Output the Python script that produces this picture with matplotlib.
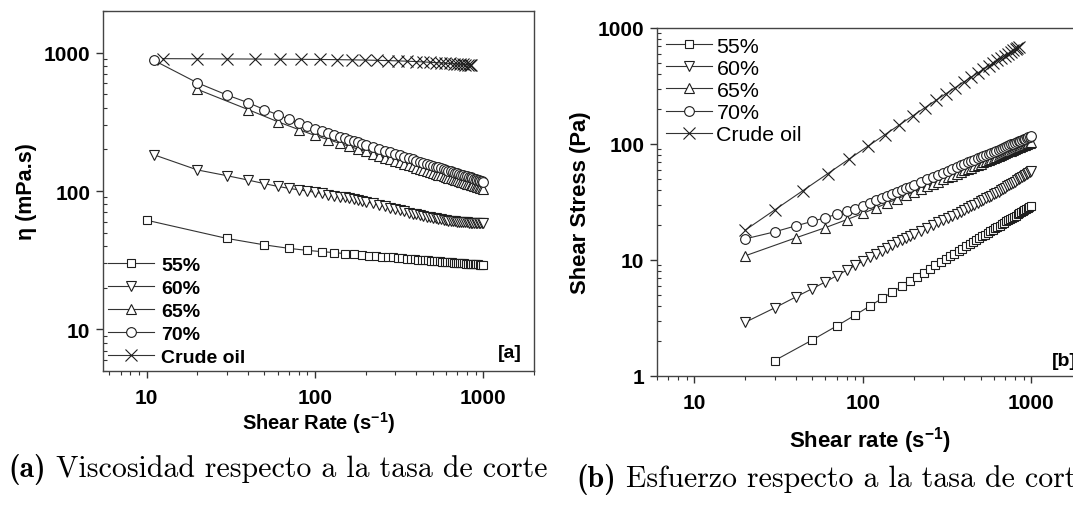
import matplotlib
matplotlib.use('Agg')
import matplotlib.pyplot as plt
from matplotlib.ticker import LogLocator, NullFormatter

plt.rcParams['font.family'] = ['Liberation Sans', 'DejaVu Sans']
plt.rcParams['mathtext.fontset'] = 'custom'
plt.rcParams['mathtext.rm'] = 'Liberation Sans'
plt.rcParams['mathtext.bf'] = 'Liberation Sans:bold'
plt.rcParams['mathtext.default'] = 'bf'

# Shear rates (1/s)
rate_55 = [10, 30, 50, 70, 90, 110, 130, 150, 170, 190, 210, 230, 250, 270, 290,
           310, 330, 350, 370, 390, 410, 430, 450, 470, 490, 510, 530, 550, 570, 590,
           610, 630, 650, 670, 690, 710, 730, 750, 770, 790, 810, 830, 850, 870, 890,
           910, 930, 950, 970, 990]
rate_fine = [11, 20, 30, 40, 50, 60, 70, 80, 90, 100, 110, 120, 130, 140, 150, 160,
             170, 180, 190, 200, 220, 240, 260, 280, 300, 320, 340, 360, 380, 400,
             420, 440, 460, 480, 500, 520, 540, 560, 580, 600, 620, 640, 660, 680, 700,
             720, 740, 760, 780, 800, 820, 840, 860, 880, 900, 920, 940, 960, 980, 1000]
rate_65 = [20, 40, 60, 80, 100, 120, 140, 160, 180, 200, 220, 240, 260, 280, 300,
           320, 340, 360, 380, 400, 420, 440, 460, 480, 500, 520, 540, 560, 580, 600,
           620, 640, 660, 680, 700, 720, 740, 760, 780, 800, 820, 840, 860, 880, 900,
           920, 940, 960, 980, 1000]
rate_crude = [12.5, 20, 30, 44, 62, 83, 107, 135, 165, 198, 234, 272, 312, 354, 398,
              440, 480, 520, 558, 595, 630, 665, 698, 728, 756, 782, 806, 828, 845]

# Viscosity (mPa.s)
visc_55 = [61.5, 45.4, 40.8, 38.5, 37.2, 36.45, 35.85, 35.3, 34.9, 34.5,
           34.15, 33.85, 33.6, 33.3, 33.1, 32.85, 32.65, 32.45, 32.3, 32.1,
           31.95, 31.8, 31.65, 31.5, 31.4, 31.3, 31.15, 31.0, 30.9, 30.8,
           30.7, 30.6, 30.5, 30.4, 30.3, 30.25, 30.15, 30.1, 30.0, 29.9,
           29.85, 29.8, 29.7, 29.6, 29.55, 29.5, 29.45, 29.4, 29.3, 29.25]
visc_60 = [183, 142, 129, 120, 113, 108, 104.5, 102, 99.8, 97.8,
           96, 94.3, 92.7, 91.2, 89.8, 88.5, 87.2, 86, 84.8, 83.7,
           81.5, 79.4, 77.5, 75.7, 74.0, 72.5, 71.1, 69.8, 68.7, 67.7,
           66.8, 66.0, 65.2, 64.5, 63.9, 63.3, 62.8, 62.3, 61.9, 61.5,
           61.1, 60.8, 60.5, 60.2, 60.0, 59.8, 59.6, 59.4, 59.3, 59.2,
           59.1, 59.0, 58.9, 58.9, 58.8, 58.8, 58.7, 58.7, 58.6, 58.6]
visc_65 = [543, 388, 317, 278, 252, 234.9, 221.4, 210.3, 201.0, 193.0,
           186.0, 179.9, 174.4, 169.5, 165.1, 161.1, 157.3, 153.9, 150.7, 147.8,
           145.0, 142.5, 140.0, 137.8, 135.6, 133.6, 131.6, 129.8, 128.1, 126.4,
           124.8, 123.3, 121.9, 120.5, 119.1, 117.9, 116.6, 115.4, 114.3, 113.2,
           112.1, 111.1, 110.1, 109.1, 108.2, 107.2, 106.3, 105.5, 104.7, 103.9]
visc_70 = [881, 605, 494, 435, 388, 356, 330, 308, 294, 281,
           271, 262, 254, 247, 241, 235, 230, 225, 220, 216,
           208, 201.5, 195.4, 190, 185, 180.6, 176.5, 172.7, 169.2, 165.9,
           162.9, 160, 157.4, 154.8, 152.4, 150.2, 148.1, 146, 144.1, 142.2,
           140.5, 138.8, 137.2, 135.6, 134.2, 132.7, 131.3, 130, 128.7, 127.5,
           126.3, 125.2, 124, 123, 121.9, 120.9, 119.9, 119, 118, 117.1]
visc_crude = [905, 903, 901, 899, 897, 895, 893, 890, 887, 884, 880, 876, 872, 867,
              862, 857, 852, 847, 843, 839, 835, 831, 828, 825, 822, 819, 817, 815, 813]

# Shear stress (Pa)
stress_55 = [1.36, 2.04, 2.70, 3.35, 4.01, 4.66, 5.30, 5.93, 6.56,
             7.17, 7.79, 8.40, 8.99, 9.60, 10.18, 10.77, 11.36, 11.95, 12.52,
             13.10, 13.67, 14.24, 14.81, 15.39, 15.96, 16.51, 17.05, 17.61, 18.17,
             18.73, 19.28, 19.83, 20.37, 20.91, 21.48, 22.01, 22.58, 23.10, 23.62,
             24.18, 24.73, 25.25, 25.75, 26.30, 26.85, 27.39, 27.93, 28.42, 28.96]
stress_60 = [2.9, 3.87, 4.80, 5.65, 6.48, 7.32, 8.16, 8.98, 9.78,
             10.56, 11.32, 12.05, 12.77, 13.47, 14.16, 14.82, 15.48, 16.11, 16.74,
             17.93, 19.06, 20.15, 21.20, 22.2, 23.2, 24.17, 25.13, 26.11, 27.08,
             28.06, 29.04, 29.99, 30.96, 31.95, 32.92, 33.91, 34.89, 35.90, 36.9,
             37.88, 38.91, 39.93, 40.94, 42.0, 43.06, 44.10, 45.14, 46.25, 47.36,
             48.46, 49.56, 50.65, 51.83, 52.92, 54.10, 55.18, 56.35, 57.43, 58.6]
stress_65 = [10.86, 15.52, 19.02, 22.24, 25.2, 28.19, 31.0, 33.65, 36.18, 38.6,
             40.92, 43.18, 45.34, 47.46, 49.53, 51.55, 53.48, 55.40, 57.27, 59.12,
             60.9, 62.7, 64.4, 66.14, 67.8, 69.47, 71.06, 72.69, 74.3, 75.84,
             77.38, 78.91, 80.45, 81.94, 83.37, 84.89, 86.28, 87.7, 89.15, 90.56,
             91.92, 93.32, 94.69, 96.01, 97.38, 98.62, 99.92, 101.28, 102.61, 103.9]
stress_70 = [15.2, 17.5, 19.7, 21.5, 23.2, 24.8, 26.3, 27.7, 29.2,
             30.9, 32.6, 34.2, 35.8, 37.3, 38.8, 40.2, 41.6, 43.0, 44.4,
             47.0, 49.5, 52.0, 54.3, 56.6, 58.9, 61.1, 63.2, 65.3, 67.4,
             69.4, 71.4, 73.3, 75.2, 77.1, 78.9, 80.7, 82.5, 84.3, 86.0,
             87.7, 89.4, 91.1, 92.8, 94.4, 96.0, 97.6, 99.2, 100.8, 102.3,
             103.9, 105.4, 106.9, 108.4, 109.8, 111.3, 112.8, 114.2, 115.6, 117.0]
stress_crude = [18.06, 27.03, 39.56, 55.61, 74.29, 95.55, 120.2, 146.4, 175.0, 205.9,
                238.3, 272.1, 306.9, 343.1, 377.1, 409.0, 440.4, 470.4, 499.2, 526.1,
                552.6, 577.9, 600.6, 621.4, 640.5, 658.5, 674.8, 687.0]

labels = ['55%', '60%', '65%', '70%', 'Crude oil']
markers = ['s', 'v', '^', 'o', 'x']
sizes = [6, 7, 7, 7, 8.5]

LINE = '#333333'
EDGE = '#1e1e1e'

W, H = 1073, 506
fig = plt.figure(figsize=(W / 100, H / 100), dpi=100)


def px_axes(left, top, right, bottom):
    return fig.add_axes([left / W, 1 - bottom / H, (right - left) / W, (bottom - top) / H])


def style_axes(ax, yticks):
    ax.set_xscale('log')
    ax.set_yscale('log')
    ax.set_xticks([10, 100, 1000], labels=['10', '100', '1000'])
    ax.set_yticks(yticks, labels=[str(t) for t in yticks])
    ax.xaxis.set_minor_locator(LogLocator(base=10, subs=range(2, 10), numticks=20))
    ax.yaxis.set_minor_locator(LogLocator(base=10, subs=range(2, 10), numticks=20))
    ax.xaxis.set_minor_formatter(NullFormatter())
    ax.yaxis.set_minor_formatter(NullFormatter())
    ax.tick_params(which='major', direction='out', length=5, width=1, labelsize=15,
                   color='#333333')
    ax.tick_params(axis='x', which='major', pad=7)
    ax.tick_params(axis='y', which='major', pad=4)
    ax.tick_params(axis='x', which='minor', direction='out', length=3, width=0.8, color='#333333')
    ax.tick_params(axis='y', which='minor', direction='in', length=3, width=0.8, color='#333333')
    for lab in ax.get_xticklabels() + ax.get_yticklabels():
        lab.set_fontweight('bold')
    for sp in ax.spines.values():
        sp.set_color('#444444')
        sp.set_linewidth(1.0)


def draw(ax, series):
    for (x, y), lab, m, s in zip(series, labels, markers, sizes):
        ax.plot(x, y, marker=m, ms=s, mfc='white', mec=EDGE, mew=0.8,
                color=LINE, lw=0.8, label=lab)


# (a) viscosity vs shear rate
ax1 = px_axes(103, 12, 534, 372)
draw(ax1, [(rate_55, visc_55), (rate_fine, visc_60), (rate_65, visc_65),
           (rate_fine, visc_70), (rate_crude, visc_crude)])
ax1.set_xlim(5.5, 2000)
ax1.set_ylim(5, 2000)
style_axes(ax1, [10, 100, 1000])
ax1.set_ylabel('η (mPa.s)', fontsize=15.5, fontweight='bold', labelpad=5)
ax1.set_xlabel(r'Shear Rate (s$^{-1}$)', fontsize=14.5, fontweight='bold', labelpad=2)
ax1.legend(loc='lower left', bbox_to_anchor=(0.0, 0.0), frameon=False,
           prop={'weight': 'bold', 'size': 14}, handlelength=2.37, handletextpad=0.36,
           labelspacing=0.28, borderaxespad=0.1, borderpad=0.15, numpoints=1)
ax1.text(0.972, 0.028, '[a]', transform=ax1.transAxes, ha='right', va='bottom',
         fontsize=14, fontweight='bold')

# (b) shear stress vs shear rate
ax2 = px_axes(657, 29, 1082, 377)
draw(ax2, [(rate_55[1:], stress_55), (rate_fine[1:], stress_60), (rate_65, stress_65),
           (rate_fine[1:], stress_70), (rate_crude[1:], stress_crude)])
ax2.set_xlim(6, 2000)
ax2.set_ylim(1, 1000)
style_axes(ax2, [1, 10, 100, 1000])
ax2.set_ylabel('Shear Stress (Pa)', fontsize=15.8, fontweight='bold', labelpad=5)
ax2.set_xlabel(r'Shear rate (s$^{-1}$)', fontsize=16, fontweight='bold', labelpad=9)
ax2.legend(loc='upper left', bbox_to_anchor=(0.0, 1.0), frameon=False,
           prop={'size': 15.4}, handlelength=2.15, handletextpad=0.23,
           labelspacing=0.15, borderaxespad=0.25, borderpad=0.15, numpoints=1)
ax2.text(0.929, 0.02, '[b]', transform=ax2.transAxes, ha='left', va='bottom',
         fontsize=14, fontweight='bold')

# sub-figure captions: bold tag followed by roman text
renderer = fig.canvas.get_renderer()


def caption(x_px, base_px, tag, text, size=21.5):
    t = fig.text(x_px / W, 1 - base_px / H, tag, family='cmb10', fontsize=size,
                 va='baseline')
    bb = t.get_window_extent(renderer)
    fig.text((bb.x1 + 10) / W, 1 - base_px / H, text, family='cmr10', fontsize=size,
             va='baseline')


caption(8, 477, '(a)', 'Viscosidad respecto a la tasa de corte')
caption(576, 487, '(b)', 'Esfuerzo respecto a la tasa de corte')

fig.savefig('out.png', dpi=100)
